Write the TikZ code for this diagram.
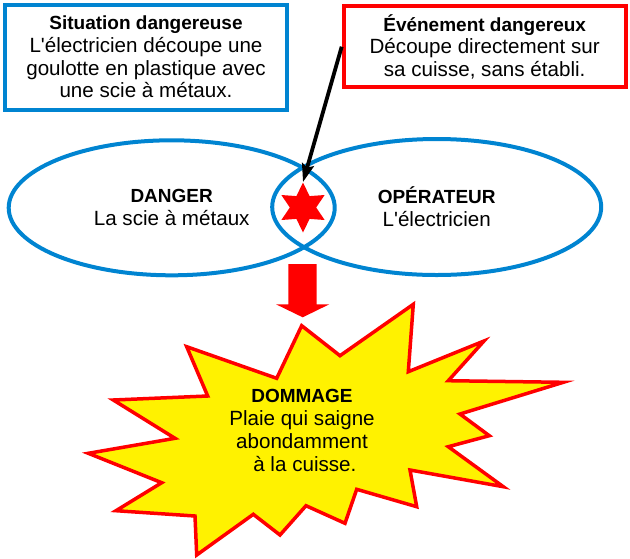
\documentclass[tikz,border=0pt]{standalone}
\usepackage{fontspec}
\setmainfont{Liberation Sans}
\usepackage{tikz}
\usetikzlibrary{shapes.geometric,arrows.meta}
\definecolor{bleu}{HTML}{0084D1}
\newcommand{\titre}[1]{{\fontsize{19}{22.7}\selectfont\bfseries #1}}
\tikzset{
    every node/.style={align=center, inner sep=0pt,
    	font=\fontsize{20.6}{22.7}\selectfont}
}
\tikzset{
    cadre/.style={draw, rectangle, line width=4pt, minimum width=282pt},
    zone/.style={draw=bleu, ellipse, line width=4pt},
    eclat/.style={fill=yellow, draw=red, line width=3.5pt}
}

\begin{document}
\begin{tikzpicture}[x=1pt, y=-1pt]
	\useasboundingbox (0,0) rectangle (630,558);
	\node [cadre, draw=bleu, minimum height=105pt] (situation) at (146,57)
		{\titre{Situation dangereuse}\\ L\textquotesingle électricien découpe une\\
		goulotte en plastique avec\\ une scie à métaux.};
	\node [cadre, draw=red, minimum height=81pt] (evenement) at (484.7,46.7)
		{\titre{Événement dangereux}\\ Découpe directement sur\\
		sa cuisse, sans établi.};
	\node [zone, minimum width=326pt, minimum height=135pt] (danger)
		at (171.7,207.8) {\titre{DANGER}\\ La scie à métaux};
	\node [zone, minimum width=329pt, minimum height=136pt] (operateur)
		at (436.7,207) {\titre{OPÉRATEUR}\\ L\textquotesingle électricien};
	\node [star, star points=6, star point ratio=1.9, minimum size=50pt,
		fill=red] (etoile) at (303,207.5) {};
	\draw [-{Stealth[length=18pt, width=12pt, inset=3pt]}, line width=3.8pt]
		(evenement.west) -- (etoile.north);
	% fleche vers le dommage
	\fill [red] (288.3,264) -- (316.7,264) -- (316.7,304.3) -- (329.3,304.3)
		-- (302.7,317.3) -- (276,304.3) -- (288.3,304.3) -- cycle;
	\draw [eclat] (301.7,325.7) -- (340,355.7) -- (413.3,304.3) -- (408.3,371.7)
		-- (484,341) -- (448.3,380.7) -- (563.3,382.3) -- (460,414)
		-- (489.3,435.7) -- (448.3,446.7) -- (503.3,486.7) -- (410,470)
		-- (416.7,506.7) -- (356.7,489.3) -- (345,523.3) -- (306,505.7)
		-- (280,535) -- (253.3,514.3) -- (196.7,555) -- (195,516)
		-- (116,510.7) -- (161.7,482.7) -- (88.3,453.3) -- (175,438.3)
		-- (113.3,400) -- (207.7,396) -- (186.7,346.7) -- (276.7,378.3)
		-- cycle;
	\node (dommage) at (302,430.5) {\titre{DOMMAGE}\\ Plaie qui saigne\\
		abondamment\\ \ à la cuisse.};
\end{tikzpicture}
\end{document}
